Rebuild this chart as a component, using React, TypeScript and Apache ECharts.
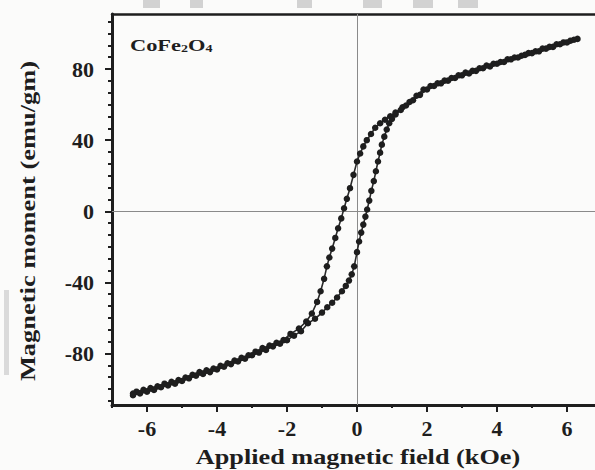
import React, { useEffect, useRef } from "react";
import * as echarts from "echarts";

// Descending-field branch (kOe, emu/gm)
const fieldDown = [
  6.3, 6.1, 5.9, 5.7, 5.5, 5.3, 5.1, 4.9, 4.7, 4.5, 4.3, 4.1, 3.9, 3.7, 3.5, 3.3,
  3.1, 2.9, 2.7, 2.5, 2.3, 2.1, 1.9, 1.7, 1.5, 1.3, 1.1, 0.95, 0.8, 0.66, 0.52,
  0.4, 0.28, 0.18, 0.09, 0.0, -0.1, -0.2, -0.29, -0.37, -0.45, -0.54, -0.62,
  -0.71, -0.79, -0.86, -0.94, -1.04, -1.14, -1.29, -1.45, -1.66, -1.9, -2.1,
  -2.3, -2.5, -2.7, -2.9, -3.1, -3.3, -3.5, -3.7, -3.9, -4.1, -4.3, -4.5, -4.7,
  -4.9, -5.1, -5.3, -5.5, -5.7, -5.9, -6.1, -6.3, -6.4,
];
const momentDown = [
  97, 96, 95, 94, 92.5, 91.5, 90, 89, 87.5, 86.5, 85.5, 84, 83, 82, 80.5, 79,
  78, 76.5, 75, 73.5, 72, 70.5, 68.5, 65, 61.5, 58.5, 55.5, 53.5, 51.5, 49.5, 47,
  43.5, 40, 36.5, 32.5, 28, 20.5, 13, 7, 1.7, -4, -9.6, -15,
  -21, -26, -31, -38, -45, -51, -57.5, -62, -66, -69, -72.5,
  -74, -75.5, -77, -79, -81, -82.5, -84, -85.5, -87, -88.5, -89.5, -90.5, -92,
  -93.5, -95, -96, -97, -98.5, -99.5, -100.5, -101.5, -102.5,
];

// Ascending-field branch (kOe, emu/gm)
const fieldUp = [
  -6.4, -6.2, -6.0, -5.8, -5.6, -5.4, -5.2, -5.0, -4.8, -4.6, -4.4, -4.2, -4.0,
  -3.8, -3.6, -3.4, -3.2, -3.0, -2.8, -2.6, -2.4, -2.2, -2.0, -1.8, -1.6, -1.4,
  -1.2, -1.0, -0.85, -0.71, -0.57, -0.43, -0.32, -0.23, -0.15, -0.08, 0.0, 0.06,
  0.12, 0.18, 0.24, 0.29, 0.35, 0.41, 0.48, 0.54, 0.6, 0.66, 0.71, 0.78, 0.85,
  0.92, 1.0, 1.1, 1.25, 1.4, 1.6, 1.8, 2.0, 2.2, 2.4, 2.6, 2.8, 3.0, 3.2, 3.4,
  3.6, 3.8, 4.0, 4.2, 4.4, 4.6, 4.8, 5.0, 5.2, 5.4, 5.6, 5.8, 6.0, 6.2,
];
const momentUp = [
  -103.5, -102.5, -101.5, -100.5, -99, -98, -97, -95.5, -94, -92.5, -91.5, -90.5, -89,
  -87.5, -86, -84.5, -83, -81, -79.5, -78, -76, -74.5, -72.5, -70, -67.5, -63,
  -60.5, -57, -54, -51.5, -48.5, -45, -42, -39, -35.5, -31, -23, -17,
  -12, -7.5, -3, 1, 6, 11.5, 17, 22.5, 28, 33, 37.5, 42, 46,
  49.5, 52, 54.5, 57, 59.5, 62.5, 65.5, 68.5, 70.5, 72, 73.5, 75, 76.5, 77.5, 79,
  80.5, 81.5, 83, 84, 85.5, 86.5, 88, 89, 90, 91.5, 92.5, 94, 95, 96.5,
];

const xTickLabels = [-6, -4, -2, 0, 2, 4, 6];
const xMinorTicks = [-7, -5, -3, -1, 1, 3, 5];
const yTickLabels = [-80, -40, 0, 40, 80];

const xTitle = "Applied magnetic field (kOe)";
const yTitle = "Magnetic moment (emu/gm)";

const INK = "#1e1e1e";
const SERIF = "'Liberation Serif', 'Times New Roman', serif";

export default function App() {
  const ref = useRef<HTMLDivElement>(null);

  useEffect(() => {
    if (!ref.current) return;
    const chart = echarts.init(ref.current, null, { renderer: "svg" });

    // y minor ticks: six per 40 emu/gm
    const yMinorTicks: number[] = [];
    for (let k = -16; k <= 16; k++) yMinorTicks.push((k * 40) / 6);

    const labelFont = {
      fontFamily: SERIF,
      fontWeight: "bold" as const,
      fontSize: 22,
      color: INK,
    };

    const pointStyle = {
      type: "line" as const,
      xAxisIndex: 0,
      yAxisIndex: 0,
      symbol: "circle",
      symbolSize: 6.5,
      showSymbol: true,
      lineStyle: { width: 1.6, color: "#2a2a2a" },
      itemStyle: { color: INK },
      z: 5,
    };

    const titleStyle = {
      fontFamily: SERIF,
      fontWeight: "bold",
      fontSize: 21,
      fill: INK,
      align: "center",
      verticalAlign: "middle",
    };

    chart.setOption({
      animation: false,
      backgroundColor: "#fbfbfa",
      grid: {
        left: 112,
        top: 14,
        width: 490,
        height: 391,
        show: false,
        outerBoundsMode: "none",
        containLabel: false,
      },
      xAxis: [
        {
          type: "value",
          min: -7,
          max: 7,
          position: "bottom",
          axisLine: { show: true, onZero: false, lineStyle: { color: INK, width: 3 } },
          axisTick: { show: true, customValues: xTickLabels, length: 7, lineStyle: { color: INK, width: 2 } },
          axisLabel: { customValues: xTickLabels, margin: 12, ...labelFont, formatter: (v: number) => String(v) },
          splitLine: { show: false },
        },
        {
          type: "value",
          min: -7,
          max: 7,
          position: "bottom",
          axisLine: { show: false, onZero: false },
          axisTick: { show: true, customValues: xMinorTicks, length: 3, lineStyle: { color: INK, width: 2 } },
          axisLabel: { show: false },
          splitLine: { show: false },
        },
        {
          type: "value",
          min: -7,
          max: 7,
          position: "top",
          axisLine: { show: true, onZero: false, lineStyle: { color: INK, width: 2.5 } },
          axisTick: { show: false },
          axisLabel: { show: false },
          splitLine: { show: false },
        },
      ],
      yAxis: [
        {
          type: "value",
          min: -109,
          max: 111,
          position: "left",
          axisLine: { show: true, onZero: false, lineStyle: { color: INK, width: 3 } },
          axisTick: { show: true, customValues: yTickLabels, length: 7, lineStyle: { color: INK, width: 2 } },
          axisLabel: { customValues: yTickLabels, margin: 18, ...labelFont, formatter: (v: number) => String(v) },
          splitLine: { show: false },
        },
        {
          type: "value",
          min: -109,
          max: 111,
          position: "left",
          axisLine: { show: false, onZero: false },
          axisTick: { show: true, customValues: yMinorTicks, length: 4, lineStyle: { color: INK, width: 2 } },
          axisLabel: { show: false },
          splitLine: { show: false },
        },
      ],
      series: [
        {
          ...pointStyle,
          name: "descending",
          data: fieldDown.map((x, i) => [x, momentDown[i]]),
          markLine: {
            silent: true,
            symbol: "none",
            label: { show: false },
            lineStyle: { color: "#8a8a8a", width: 1, type: "solid" },
            data: [{ xAxis: 0 }, { yAxis: 0 }],
            z: 1,
          },
        },
        {
          ...pointStyle,
          name: "ascending",
          data: fieldUp.map((x, i) => [x, momentUp[i]]),
        },
      ],
      graphic: [
        // axis titles, set in a wide bold serif
        {
          type: "text",
          x: 358,
          y: 457,
          scaleX: 1.25,
          style: { ...titleStyle, text: xTitle },
        },
        {
          type: "text",
          x: 28,
          y: 221,
          rotation: Math.PI / 2,
          scaleX: 1.26,
          style: { ...titleStyle, text: yTitle },
        },
        {
          type: "text",
          x: 130,
          y: 37,
          scaleX: 1.4,
          style: {
            text: "CoFe{s|2}O{s|4}",
            fontFamily: SERIF,
            fontWeight: "bold",
            fontSize: 16,
            fill: INK,
            rich: {
              s: { fontFamily: SERIF, fontWeight: "bold", fontSize: 10, fill: INK, padding: [7, 0, 0, 0] },
            },
          },
        },
        // faint grey blocks along the top edge and the left margin
        ...[
          [143, 17],
          [190, 13],
          [297, 15],
          [363, 19],
          [413, 20],
          [458, 20],
        ].map(([x, w]) => ({
          type: "rect",
          shape: { x, y: 0, width: w, height: 8 },
          style: { fill: "#d2d2d2" },
          silent: true,
        })),
        {
          type: "rect",
          shape: { x: 4, y: 290, width: 5, height: 85 },
          style: { fill: "#dadada" },
          silent: true,
        },
      ],
    });

    return () => chart.dispose();
  }, []);

  return (
    <div
      ref={ref}
      style={{ position: "fixed", left: 0, top: 0, width: 595, height: 470 }}
    />
  );
}
